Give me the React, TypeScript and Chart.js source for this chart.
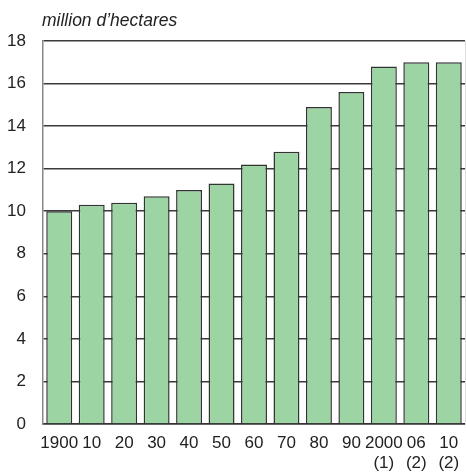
import React, { useEffect, useRef } from "react";
import { Chart, registerables } from "chart.js";

Chart.register(...registerables);

const categories: (string | string[])[] = [
  "1900", "10", "20", "30", "40", "50", "60", "70", "80", "90",
  ["2000", "(1)"], ["06", "(2)"], ["10", "(2)"],
];
const hectares: number[] = [10.0, 10.3, 10.4, 10.7, 11.0, 11.3, 12.2, 12.8, 14.9, 15.6, 16.8, 17.0, 17.0];
const unitLabel = "million d\u2019hectares";
const yMin = 0;
const yMax = 18;
const yStep = 2;

const FONT = "'Liberation Sans', Arial, sans-serif";

export default function App() {
  const ref = useRef<HTMLCanvasElement | null>(null);
  useEffect(() => {
    document.body.style.margin = "0";
    const titlePlugin = {
      id: "unitTitle",
      afterDraw(chart: any) {
        const { ctx, chartArea } = chart;
        ctx.save();
        ctx.font = `italic 17.5px ${FONT}`;
        ctx.fillStyle = "#222";
        ctx.textBaseline = "alphabetic";
        ctx.textAlign = "left";
        ctx.fillText(unitLabel, chartArea.left - 1, 26);
        ctx.restore();
      },
    };
    const chart = new Chart(ref.current!, {
      type: "bar",
      data: {
        labels: categories,
        datasets: [
          {
            data: hectares,
            backgroundColor: "#9cd4a4",
            borderColor: "#333",
            borderWidth: 1.5,
            barPercentage: 0.8,
            categoryPercentage: 1,
          },
        ],
      },
      options: {
        animation: false,
        responsive: false,
        maintainAspectRatio: false,
        layout: { padding: { top: 41, right: 1, left: 0, bottom: 0 } },
        plugins: { legend: { display: false }, tooltip: { enabled: false }, title: { display: false } },
        scales: {
          x: {
            grid: { display: false },
            border: { display: true, color: "#333", width: 1.5 },
            ticks: {
              color: "#222",
              font: { family: FONT, size: 17, lineHeight: 1.15 },
              padding: 2,
              maxRotation: 0,
              autoSkip: false,
            },
            afterFit(scale: any) {
              scale.height = 51;
            },
          },
          y: {
            min: yMin,
            max: yMax,
            ticks: {
              stepSize: yStep,
              color: "#222",
              font: { family: FONT, size: 17 },
              padding: 17,
            },
            grid: { color: "#3a3a3a", lineWidth: 1.5, drawTicks: false },
            border: { display: true, color: "#888", width: 1.5 },
            afterFit(scale: any) {
              scale.width = 43;
            },
          },
          y2: {
            position: "right",
            min: yMin,
            max: yMax,
            ticks: { display: false },
            grid: { display: false, drawTicks: false },
            border: { display: true, color: "#ddd", width: 1 },
            afterFit(scale: any) {
              scale.width = 0;
            },
          },
        },
      },
      plugins: [titlePlugin],
    });
    return () => chart.destroy();
  }, []);
  return (
    <div style={{ position: "absolute", left: 0, top: 0, width: 466, height: 475 }}>
      <canvas ref={ref} width={466} height={475} style={{ width: 466, height: 475 }} />
    </div>
  );
}
